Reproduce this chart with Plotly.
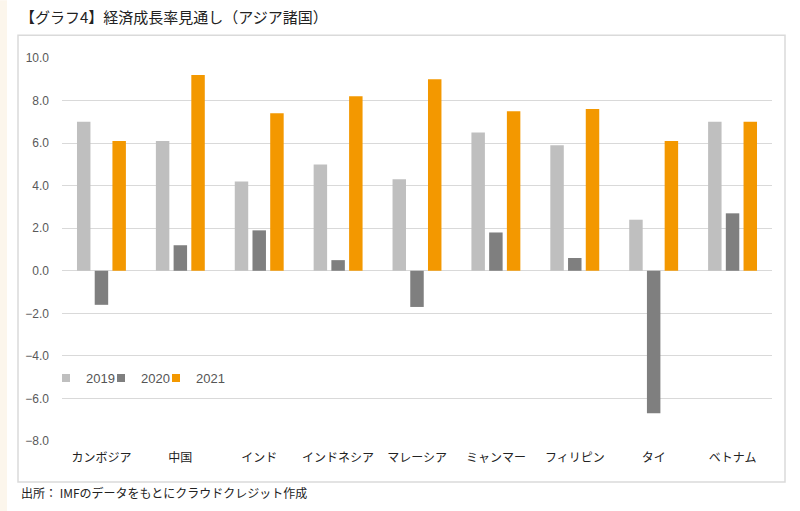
import plotly.graph_objects as go

categories = ["カンボジア", "中国", "インド", "インドネシア", "マレーシア", "ミャンマー", "フィリピン", "タイ", "ベトナム"]
v2019 = [7.0, 6.1, 4.2, 5.0, 4.3, 6.5, 5.9, 2.4, 7.0]
v2020 = [-1.6, 1.2, 1.9, 0.5, -1.7, 1.8, 0.6, -6.7, 2.7]
v2021 = [6.1, 9.2, 7.4, 8.2, 9.0, 7.5, 7.6, 6.1, 7.0]
y_ticks = [-8, -6, -4, -2, 0, 2, 4, 6, 8, 10]

W, H = 800, 511
L, R, T, B = 62, 772, 57.7, 441

def px(x):
    return (x - L) / (R - L)

def py(y):
    return (B - y) / (B - T)

series = [("2019", v2019, "#bfbfbf", "legend"), ("2020", v2020, "#7f7f7f", "legend2"), ("2021", v2021, "#f39800", "legend3")]

fig = go.Figure()
for name, vals, col, lg in series:
    fig.add_trace(go.Bar(x=categories, y=vals, name=name, showlegend=False,
                         marker=dict(color=col, line=dict(width=0))))
for name, vals, col, lg in series:
    fig.add_trace(go.Scatter(x=[None], y=[None], mode="markers", name=name, legend=lg,
                             marker=dict(symbol="square", size=8, color=col)))

def legend_at(xpix):
    return dict(orientation="h", x=px(xpix), y=py(378), xanchor="left", yanchor="middle",
                font=dict(family="Liberation Sans, Arial", size=13, color="#555555"),
                bgcolor="rgba(0,0,0,0)", itemwidth=30)

fig.update_layout(
    width=W, height=H,
    margin=dict(l=L, r=W - R, t=T, b=H - B, autoexpand=False),
    paper_bgcolor="white", plot_bgcolor="white",
    barmode="group", bargap=0.326, bargroupgap=0.24,
    font=dict(family="Liberation Sans, Arial, Noto Sans CJK JP", color="#404040", size=12),
    title=dict(text="【グラフ4】経済成長率見通し（アジア諸国）", x=20 / W, xanchor="left", xref="container",
               y=1 - 18 / H, yanchor="middle", yref="container",
               font=dict(family="Noto Sans CJK JP", size=15, color="#222222")),
    showlegend=True,
    legend=legend_at(46), legend2=legend_at(101), legend3=legend_at(156),
    xaxis=dict(showgrid=False, showline=False, ticks="", zeroline=False,
               tickfont=dict(family="Noto Sans CJK JP", size=12, color="#222222"),
               ticklabelstandoff=8, fixedrange=True),
    yaxis=dict(range=[-8, 10], tickvals=y_ticks, tickformat=".1f",
               showgrid=True, gridcolor="#d9d9d9", gridwidth=1,
               zeroline=True, zerolinecolor="#d9d9d9", zerolinewidth=1,
               showline=False, ticks="", ticklabelstandoff=12, fixedrange=True,
               tickfont=dict(family="Liberation Sans, Arial", size=12, color="#595959")),
    shapes=[
        dict(type="rect", xref="paper", yref="paper", x0=px(18), x1=px(785), y0=py(482), y1=py(35),
             line=dict(color="#dadada", width=1.5), fillcolor="rgba(0,0,0,0)", layer="below"),
        dict(type="rect", xref="paper", yref="paper", x0=px(0), x1=px(7), y0=py(511), y1=py(0),
             line=dict(width=0), fillcolor="#fcf6ec", layer="below"),
    ],
    annotations=[
        dict(text="出所： IMFのデータをもとにクラウドクレジット作成", xref="paper", yref="paper",
             x=px(19), y=py(493), xanchor="left", yanchor="middle", showarrow=False,
             font=dict(family="Noto Sans CJK JP", size=12, color="#222222")),
    ],
)

fig.write_html("out.html", config={"displayModeBar": False},
               post_script="document.body.style.margin='0px';document.body.style.overflow='hidden';")
